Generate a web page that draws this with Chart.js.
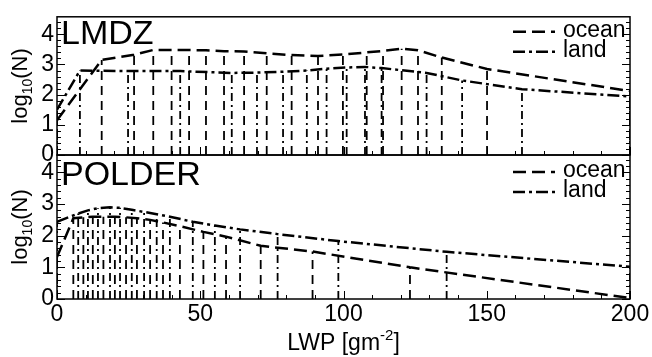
<!DOCTYPE html>
<html>
<head>
<meta charset="utf-8">
<script src="https://cdn.jsdelivr.net/npm/chart.js@4.4.0/dist/chart.umd.min.js"></script>
<style>
  html, body { margin: 0; padding: 0; background: #fff; }
  #wrap { position: relative; width: 652px; height: 357px; }
  #wrap canvas { position: absolute; left: 0; top: 0; }
</style>
</head>
<body>
<div id="wrap">
  <canvas id="lmdz" width="652" height="357"></canvas>
  <canvas id="polder" width="652" height="357"></canvas>
</div>
<script>
// values (LWP in g/m2, log10 of counts)
var lmdzOceanX = [0, 15.6, 26.9, 33.6, 40, 46.1, 52, 58.3, 65.3, 73.2, 81.9, 91.1, 99.8, 108.1, 113.8, 120.3, 126, 134.3, 150.1, 200];
var lmdzOceanY = [1.15, 3.15, 3.32, 3.48, 3.48, 3.48, 3.47, 3.44, 3.43, 3.37, 3.31, 3.28, 3.33, 3.40, 3.45, 3.52, 3.47, 3.23, 2.85, 2.12];
var lmdzLandX = [0, 8, 24.8, 43, 61, 69.8, 78.9, 87.2, 94.1, 101.1, 107.5, 113.3, 129, 141.4, 162.3, 200];
var lmdzLandY = [1.5, 2.8, 2.78, 2.78, 2.72, 2.73, 2.76, 2.8, 2.86, 2.9, 2.92, 2.88, 2.72, 2.47, 2.18, 1.94];

var polderOceanX = [0, 5.7, 9.2, 12.5, 16.2, 20.2, 24.1, 27.9, 32.5, 37, 42.9, 51.1, 59, 71.1, 89.2, 123.2, 200];
var polderOceanY = [1.33, 2.55, 2.58, 2.6, 2.6, 2.6, 2.58, 2.55, 2.5, 2.42, 2.3, 2.12, 1.97, 1.68, 1.5, 1.0, 0.03];
var polderLandX = [0, 7.4, 10.8, 14.3, 18.5, 22, 26.1, 30.4, 34.8, 39.4, 47.4, 55.1, 63.9, 77, 98.2, 136, 200];
var polderLandY = [2.44, 2.7, 2.8, 2.87, 2.9, 2.88, 2.82, 2.75, 2.68, 2.6, 2.44, 2.32, 2.2, 2.05, 1.83, 1.49, 1.02];

var xTicks = [0, 50, 100, 150, 200];
var yTicks = [0, 1, 2, 3, 4];
var seriesNames = ['ocean', 'land'];

var FONT = '"Liberation Sans", Arial, sans-serif';
var oceanDash = [13, 6];
var landDash = [12, 4, 3, 4];

function points(xs, ys) {
  return xs.map(function (x, i) { return { x: x, y: ys[i] }; });
}

// vertical drop line from 0 up to every point, broken by null
function drops(xs, ys) {
  var out = [];
  xs.forEach(function (x, i) {
    out.push({ x: x, y: 0 }, { x: x, y: ys[i] }, { x: x, y: null });
  });
  return out;
}

// frame, inner ticks, panel name, legend and axis titles
var frame = {
  id: 'frame',
  afterDatasetsDraw: function (chart, args, opts) {
    var ctx = chart.ctx, a = chart.chartArea;
    var sx = chart.scales.x, sy = chart.scales.y;
    ctx.save();
    ctx.strokeStyle = '#000';
    ctx.fillStyle = '#000';
    ctx.setLineDash([]);
    ctx.lineWidth = 1.5;
    ctx.strokeRect(a.left, a.top, a.right - a.left, a.bottom - a.top);

    ctx.lineWidth = 1;
    ctx.beginPath();
    for (var v = 0; v <= 200; v += 10) {
      var px = Math.round(sx.getPixelForValue(v)) + 0.5;
      var len = v % 50 === 0 ? 8 : 4;
      ctx.moveTo(px, a.bottom);
      ctx.lineTo(px, a.bottom - len);
    }
    for (var i = 0; i / 5 <= sy.max; i++) {
      var py = Math.round(sy.getPixelForValue(i / 5)) + 0.5;
      var l = i % 5 === 0 ? 8 : 4;
      ctx.moveTo(a.left, py); ctx.lineTo(a.left + l, py);
      ctx.moveTo(a.right, py); ctx.lineTo(a.right - l, py);
    }
    ctx.stroke();

    // panel name
    ctx.font = '34px ' + FONT;
    ctx.textBaseline = 'alphabetic';
    ctx.textAlign = 'left';
    ctx.fillText(opts.name, a.left + 4, a.top + opts.nameDy);

    // legend
    ctx.font = '23px ' + FONT;
    ctx.lineWidth = 2.5;
    [oceanDash, landDash].forEach(function (dash, k) {
      var base = a.top + opts.legendDy + k * 20;
      ctx.setLineDash(dash);
      ctx.beginPath();
      ctx.moveTo(a.right - 117, base - 5);
      ctx.lineTo(a.right - 75, base - 5);
      ctx.stroke();
      ctx.fillText(seriesNames[k], a.right - 67, base);
    });
    ctx.setLineDash([]);

    // y title: log10(N), rotated
    var cy = (a.top + a.bottom) / 2;
    ctx.save();
    ctx.translate(27, cy);
    ctx.rotate(-Math.PI / 2);
    ctx.font = '22px ' + FONT;
    var w1 = ctx.measureText('log').width;
    var w3 = ctx.measureText('(N)').width;
    ctx.font = '14px ' + FONT;
    var w2 = ctx.measureText('10').width;
    var x0 = -(w1 + w2 + w3) / 2;
    ctx.font = '22px ' + FONT;
    ctx.fillText('log', x0, 0);
    ctx.fillText('(N)', x0 + w1 + w2, 0);
    ctx.font = '14px ' + FONT;
    ctx.fillText('10', x0 + w1, 5);
    ctx.restore();

    // x title on the lower panel: LWP [gm-2]
    if (opts.xTitle) {
      var cx = (a.left + a.right) / 2;
      ctx.font = '23px ' + FONT;
      var t1 = ctx.measureText('LWP [gm').width;
      var t3 = ctx.measureText(']').width;
      ctx.font = '15px ' + FONT;
      var t2 = ctx.measureText('-2').width;
      var s = cx - (t1 + t2 + t3) / 2;
      ctx.font = '23px ' + FONT;
      ctx.fillText('LWP [gm', s, 350);
      ctx.fillText(']', s + t1 + t2, 350);
      ctx.font = '15px ' + FONT;
      ctx.fillText('-2', s + t1, 340);
    }
    ctx.restore();
  }
};

function makePanel(id, oceanX, oceanY, landX, landY, yMax, name, padTop, padBottom, lower) {
  return new Chart(document.getElementById(id), {
    type: 'line',
    data: {
      datasets: [
        { data: drops(oceanX, oceanY), borderColor: '#000', borderWidth: 1.8, borderDash: [9, 6], pointRadius: 0, spanGaps: false },
        { data: drops(landX, landY), borderColor: '#000', borderWidth: 1.8, borderDash: [8, 4, 2, 4], pointRadius: 0, spanGaps: false },
        { data: points(oceanX, oceanY), borderColor: '#000', borderWidth: 2.5, borderDash: oceanDash, pointRadius: 0, tension: 0 },
        { data: points(landX, landY), borderColor: '#000', borderWidth: 2.5, borderDash: landDash, pointRadius: 0, tension: 0 }
      ]
    },
    options: {
      responsive: false,
      animation: false,
      devicePixelRatio: 1,
      layout: { padding: { top: padTop, bottom: padBottom, left: 0, right: 22 } },
      plugins: {
        legend: { display: false },
        tooltip: { enabled: false },
        frame: { name: name, nameDy: lower ? 30 : 27, legendDy: lower ? 22 : 20, xTitle: lower }
      },
      scales: {
        x: {
          type: 'linear',
          display: lower,
          min: 0,
          max: 200,
          grid: { display: false, drawTicks: false },
          border: { display: false },
          afterBuildTicks: function (scale) { scale.ticks = xTicks.map(function (v) { return { value: v }; }); },
          ticks: { color: '#000', font: { family: FONT, size: 23 }, padding: 2, maxRotation: 0 },
          afterFit: function (scale) { scale.height = lower ? 58 : 0; }
        },
        y: {
          min: 0,
          max: yMax,
          grid: { display: false, drawTicks: false },
          border: { display: false },
          afterBuildTicks: function (scale) { scale.ticks = yTicks.map(function (v) { return { value: v }; }); },
          ticks: { color: '#000', font: { family: FONT, size: 23 }, padding: 3 },
          afterFit: function (scale) { scale.width = 57; }
        }
      }
    },
    plugins: [frame]
  });
}

makePanel('lmdz', lmdzOceanX, lmdzOceanY, lmdzLandX, lmdzLandY, 4.58, 'LMDZ', 13, 202, false);
makePanel('polder', polderOceanX, polderOceanY, polderLandX, polderLandY, 4.55, 'POLDER', 155, 0, true);
</script>
</body>
</html>
